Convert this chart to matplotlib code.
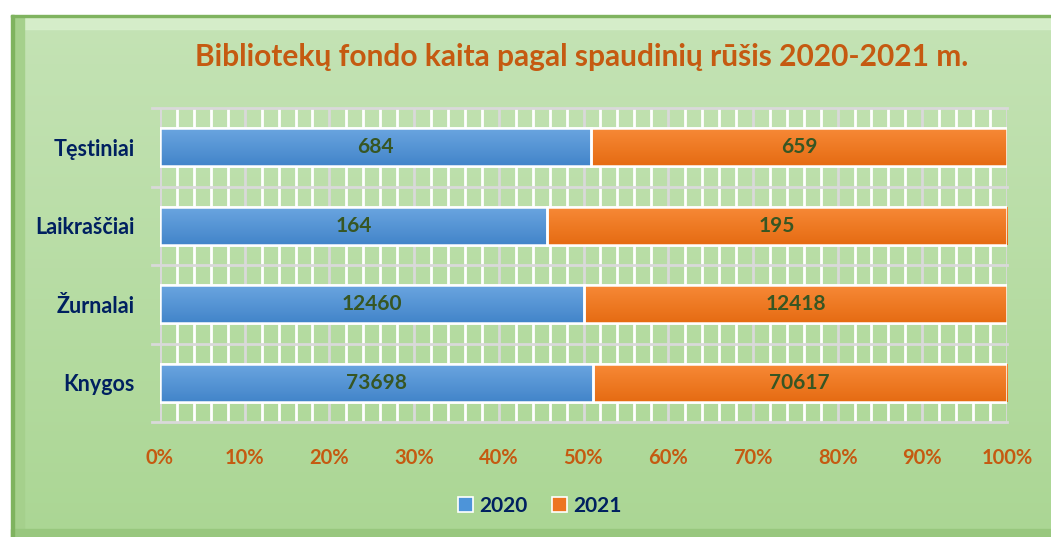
import matplotlib
matplotlib.use("Agg")
import matplotlib.pyplot as plt
import numpy as np
from matplotlib.patches import Rectangle, Patch

categories = ["Knygos", "Žurnalai", "Laikraščiai", "Tęstiniai"]
values_2020 = [73698, 12460, 164, 684]
values_2021 = [70617, 12418, 195, 659]
series_names = ["2020", "2021"]
x_ticks = [0, 10, 20, 30, 40, 50, 60, 70, 80, 90, 100]
title = "Bibliotekų fondo kaita pagal spaudinių rūšis 2020-2021 m."

FONT = ["Lato", "DejaVu Sans"]
W, H = 1051, 537
fig = plt.figure(figsize=(W / 100, H / 100), dpi=100)
fig.patch.set_facecolor("white")

# background frame with gradient + bevel
bg = fig.add_axes([0, 0, 1, 1], zorder=-10)
bg.set_xlim(0, W); bg.set_ylim(H, 0); bg.axis("off")
grad = np.linspace(0, 1, 256).reshape(-1, 1)
top_c = np.array([0.77, 0.89, 0.71]); bot_c = np.array([0.67, 0.84, 0.58])
img = top_c[None, None, :] * (1 - grad[..., None]) + bot_c[None, None, :] * grad[..., None]
bg.imshow(img, extent=[11, W, H, 15], aspect="auto", zorder=0)
bg.add_patch(Rectangle((11, 15), W - 11, 2, color="#7fb35f", zorder=2))
bg.add_patch(Rectangle((13, 17), W - 13, 12, color="#d8efcc", zorder=1, alpha=0.9))
bg.add_patch(Rectangle((11, 15), 3, H - 15, color="#7fb35f", zorder=2))
bg.add_patch(Rectangle((14, 17), 10, H - 17, color="#a5d08c", zorder=1))
bg.add_patch(Rectangle((11, H - 8), W - 11, 8, color="#98c77e", zorder=1))

# main axes
l, r, t, b = 160, 1007, 108, 422
ax = fig.add_axes([l / W, 1 - b / H, (r - l) / W, (b - t) / H])
ax.set_facecolor("none")
n = len(categories)
ax.set_xlim(0, 1); ax.set_ylim(-0.5, n - 0.5)

v20 = np.array(values_2020, float); v21 = np.array(values_2021, float)
tot = v20 + v21
p20 = v20 / tot; p21 = v21 / tot

for i, xv in enumerate(np.arange(0, 1.0001, 0.02)):
    major = (i % 5 == 0)
    ax.axvline(xv, color="#d9d9d9" if major else "white", lw=2, zorder=1)
for yv in np.arange(-0.5, n, 1.0):
    ax.plot([-0.01, 1.0], [yv, yv], color="#d9d9d9", lw=2, zorder=1, clip_on=False)

bh = 0.49
blue_top = np.array([0.42, 0.65, 0.88]); blue_bot = np.array([0.26, 0.52, 0.79])
or_top = np.array([0.97, 0.54, 0.22]); or_bot = np.array([0.90, 0.42, 0.07])
g = np.linspace(0, 1, 64).reshape(-1, 1)
def gimg(c1, c2):
    return c1[None, None, :] * (1 - g[..., None]) + c2[None, None, :] * g[..., None]

bars20 = ax.barh(range(n), p20, height=bh, color=blue_bot, edgecolor="white", lw=1.8, zorder=3)
bars21 = ax.barh(range(n), p21, left=p20, height=bh, color=or_bot, edgecolor="white", lw=1.8, zorder=3)
for bars, c1, c2 in [(bars20, blue_top, blue_bot), (bars21, or_top, or_bot)]:
    for rect in bars:
        x0, y0 = rect.get_x(), rect.get_y()
        w, h = rect.get_width(), rect.get_height()
        im = ax.imshow(gimg(c1, c2), extent=[x0, x0 + w, y0, y0 + h], origin="upper",
                       aspect="auto", zorder=3.5)
        im.set_clip_path(rect)
    for rect in bars:
        ax.add_patch(Rectangle((rect.get_x(), rect.get_y()), rect.get_width(), rect.get_height(),
                               fill=False, edgecolor="white", lw=1.8, zorder=4))

for i in range(n):
    ax.text(p20[i] / 2, i, f"{values_2020[i]}", ha="center", va="center", color="#375623",
            fontsize=15, fontweight="bold", family=FONT, zorder=5)
    ax.text(p20[i] + p21[i] / 2, i, f"{values_2021[i]}", ha="center", va="center", color="#375623",
            fontsize=15, fontweight="bold", family=FONT, zorder=5)

ax.set_yticks(range(n))
ax.set_yticklabels(categories, family=FONT, fontsize=15.5, fontweight="bold", color="#002060")
ax.set_xticks(np.array(x_ticks) / 100)
ax.set_xticklabels([f"{v}%" for v in x_ticks], family=FONT, fontsize=14.5, fontweight="bold",
                   color="#c55a11")
ax.tick_params(axis="both", length=0)
ax.tick_params(axis="y", pad=18)
ax.tick_params(axis="x", pad=19)
for s in ax.spines.values():
    s.set_visible(False)
ax.axvline(0, color="#d9d9d9", lw=2, zorder=2)

fig.text(582 / W, 1 - 57 / H, title, ha="center", va="center", family=FONT, fontsize=21.5,
         fontweight="bold", color="#c55a11")

handles = [Patch(facecolor=(0.30, 0.58, 0.85), edgecolor="white", lw=1.2),
           Patch(facecolor=(0.93, 0.46, 0.13), edgecolor="white", lw=1.2)]
leg = fig.legend(handles, series_names, loc="center", bbox_to_anchor=(540 / W, 1 - 506 / H),
                 ncol=2, frameon=False, handlelength=0.7, handleheight=0.7, handletextpad=0.3,
                 columnspacing=1.2, prop={"family": FONT, "size": 15, "weight": "bold"})
for tx in leg.get_texts():
    tx.set_color("#002060")

fig.savefig("out.png", dpi=100)
